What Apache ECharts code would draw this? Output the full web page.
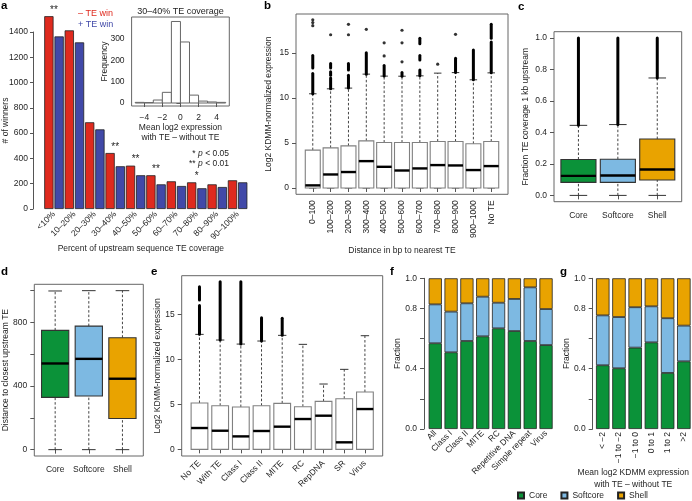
<!DOCTYPE html>
<html><head><meta charset="utf-8">
<script src="https://cdn.jsdelivr.net/npm/echarts@6/dist/echarts.min.js"></script>
<style>html,body{margin:0;padding:0;background:#fff}#c{width:692px;height:501px}</style>
</head><body><div id="c"></div>
<script>
// ================= DATA =================
// Panel a: number of winners
const aCats = ['<10%','10–20%','20–30%','30–40%','40–50%','50–60%','60–70%','70–80%','80–90%','90–100%'];
const aMinusTE = [1525,1413,686,443,343,267,219,211,195,227];
const aPlusTE  = [1365,1318,630,338,267,195,182,164,174,211];
const aStarIdx = [0,3,4,5,7];
const aStars   = ['**','**','**','**','*'];
// Panel a inset: histogram
const histEdges  = [-5,-4,-3,-2,-1,0,1,2,3,4,5];
const histCounts = [3,2,14,50,382,286,37,9,5,3];
const histXTicks = [-4,-2,0,2,4];
const histYTicks = [0,100,200,300];
// Panel b
const bCats = ['0–100','100–200','200–300','300–400','400–500','500–600','600–700','700–800','800–900','900–1000','No TE'];
const bLow  = [0,0,0,0,0,0,0,0,0,0,0];
const bQ1   = [0,0,0,0,0,0,0,0,0,0,0];
const bMed  = [0.29,1.5,1.77,2.98,2.35,1.94,2.17,2.54,2.5,1.99,2.43];
const bQ3   = [4.2,4.45,4.67,5.23,5.04,5.04,5.04,5.15,5.15,4.9,5.15];
const bHigh = [10.45,11.0,11.08,12.63,12.41,12.4,12.44,12.74,12.8,12.0,12.77];
const bOutRuns = [[[10.45,12.7],[13.3,14.7]],[[11.0,12.2],[12.5,12.9],[13.3,13.8]],[[11.08,12.5],[13.1,13.8]],[[12.63,15.0]],[[12.41,13.6]],[[12.4,12.8]],[[12.44,13.1],[14.2,14.7],[16.0,16.6]],[],[[12.8,14.4]],[[12.0,15.3]],[[12.77,16.2],[16.6,18.15]]];
const bOutPts  = [[18.0,18.35,18.65],[17.0],[17.0,18.15],[17.6],[14.65,16.1],[14.0,16.1,17.5],[],[13.73],[17.05],[],[]];
const bYTicks = [0,5,10,15];
// Panel c
const groups = ['Core','Softcore','Shell'];
const cLow  = [0,0,0];
const cQ1   = [0.083,0.083,0.098];
const cMed  = [0.124,0.126,0.165];
const cQ3   = [0.228,0.23,0.358];
const cHigh = [0.445,0.45,0.746];
const cOutRuns = [[[0.445,1.0]],[[0.45,1.0]],[[0.746,1.0]]];
const cYTicks = [0,0.2,0.4,0.6,0.8,1.0];
// Panel d
const dLow  = [0,0,0];
const dQ1   = [329,337,196];
const dMed  = [542,571,446];
const dQ3   = [750,777,704];
const dHigh = [998,1000,1000];
const dYTicks = [0,200,400,600,800,1000];
const dYLabels = [0,400,800];
// Panel e
const eCats = ['No TE','With TE','Class I','Class II','MITE','RC','RepDNA','SR','Virus'];
const eLow  = [0,0,0,0,0,0,0,0,0];
const eQ1   = [0,0,0,0,0,0,0,0,0];
const eMed  = [2.37,2.07,1.44,2.04,2.52,3.37,3.74,0.78,4.48];
const eQ3   = [5.15,4.85,4.7,4.85,5.11,4.74,5.33,5.63,6.37];
const eHigh = [12.78,12.15,11.7,12.04,12.67,11.67,7.26,8.89,12.63];
const eOutRuns = [[[12.78,16.0],[16.6,18.07]],[[12.15,18.63]],[[11.7,18.63]],[[12.04,14.63]],[[12.67,14.56]],[],[],[],[]];
const eYTicks = [0,5,10,15];
// Panel f
const fCats = ['All','Class I','Class II','MITE','RC','Repetitive DNA','Simple repeat','Virus'];
const fCore  = [0.569,0.509,0.584,0.615,0.668,0.650,0.584,0.557];
const fSoft  = [0.258,0.270,0.250,0.263,0.170,0.213,0.356,0.239];
const fShell = [0.173,0.221,0.166,0.122,0.162,0.137,0.060,0.204];
// Panel g
const gCats = ['< −2','−1 to −2','−1 to 0','0 to 1','1 to 2','>2'];
const gCore  = [0.423,0.403,0.540,0.575,0.372,0.449];
const gSoft  = [0.331,0.340,0.268,0.239,0.363,0.237];
const gShell = [0.246,0.257,0.192,0.186,0.265,0.314];
const fracTicks = [0,0.2,0.4,0.6,0.8,1.0];
const fracLabels = [0,0.4,0.8,1.0];

// ================= STYLE =================
const FONT = '"Liberation Sans", Arial, Helvetica, sans-serif';
const TXT = '#1e1e1e', AXC = '#555';
const FS = 8.5;
const RED = '#df2a1e', BLUE = '#4149a8', GREEN = '#0b9239', LBLUE = '#7db9e2', ORANGE = '#e9a300';
const lab = {fontSize: FS, color: TXT, fontFamily: FONT};

const idx = n => Array.from({length: n}, (_, i) => i + 1);
const zip5 = (lo, q1, md, q3, hi) => lo.map((v, i) => [i + 1, v, q1[i], md[i], q3[i], hi[i]]);
const runs = r => r.flatMap((list, i) => list.map(s => [i + 1, s[0], s[1]]));
const pts = p => p.flatMap((list, i) => list.map(v => [i + 1, v]));

function catX(gi, cats, min, max, rotate, margin, name, nameGap, namePad) {
  const pos = idx(cats.length);
  return {gridIndex: gi, type: 'value', min, max, name, nameLocation: 'middle', nameGap, nameMoveOverlap: false,
    nameTextStyle: Object.assign({padding: namePad || 0}, lab),
    axisLine: {show: false}, splitLine: {show: false},
    axisTick: {show: true, customValues: pos, length: 4, lineStyle: {color: AXC}},
    axisLabel: Object.assign({customValues: pos, rotate, margin, formatter: v => cats[Math.round(v) - 1] || ''}, lab)};
}
function valY(gi, min, max, labels, ticks, fmt, name, nameGap, margin) {
  return {gridIndex: gi, type: 'value', min, max, name, nameLocation: 'middle', nameGap, nameMoveOverlap: false,
    nameTextStyle: lab, axisLine: {show: false}, splitLine: {show: false},
    axisTick: {show: true, customValues: ticks, length: 4, lineStyle: {color: AXC}},
    axisLabel: Object.assign({customValues: labels, margin: margin || 7, formatter: fmt}, lab)};
}
function boxRenderer(wUnits, fills, stroke) {
  return function (params, api) {
    const x = api.value(0);
    const lo = api.value(1), q1 = api.value(2), md = api.value(3), q3 = api.value(4), hi = api.value(5);
    const half = api.size([wUnits, 0])[0] / 2, cap = half / 2;
    const cx = api.coord([x, 0])[0];
    const y = v => api.coord([x, v])[1];
    const fill = fills[params.dataIndex % fills.length];
    const wl = {stroke: '#444', lineWidth: 1, lineDash: [2.5, 2]};
    const sl = {stroke: '#333', lineWidth: 1};
    return {type: 'group', children: [
      {type: 'line', shape: {x1: cx, y1: y(q3), x2: cx, y2: y(hi)}, style: wl},
      {type: 'line', shape: {x1: cx - cap, y1: y(hi), x2: cx + cap, y2: y(hi)}, style: sl},
      {type: 'line', shape: {x1: cx, y1: y(lo), x2: cx, y2: y(q1)}, style: wl},
      {type: 'line', shape: {x1: cx - cap, y1: y(lo), x2: cx + cap, y2: y(lo)}, style: sl},
      {type: 'rect', shape: {x: cx - half, y: y(q3), width: 2 * half, height: y(q1) - y(q3)}, style: {fill, stroke, lineWidth: 1.1}},
      {type: 'line', shape: {x1: cx - half, y1: y(md), x2: cx + half, y2: y(md)}, style: {stroke: '#000', lineWidth: 2.4}}
    ]};
  };
}
function runRenderer(params, api) {
  const a = api.coord([api.value(0), api.value(1)]);
  const b = api.coord([api.value(0), api.value(2)]);
  return {type: 'line', shape: {x1: a[0], y1: a[1], x2: b[0], y2: b[1]}, style: {stroke: '#000', lineWidth: 3, lineCap: 'round'}};
}
function boxSeries(gi, data, w, fills, stroke) {
  return {type: 'custom', xAxisIndex: gi, yAxisIndex: gi, data, renderItem: boxRenderer(w, fills, stroke),
    encode: {x: 0, y: [1, 2, 3, 4, 5]}, silent: true, z: 2};
}
function runSeries(gi, data) {
  return {type: 'custom', xAxisIndex: gi, yAxisIndex: gi, data, renderItem: runRenderer, encode: {x: 0, y: [1, 2]}, silent: true, z: 3};
}
function ptSeries(gi, data) {
  return {type: 'scatter', xAxisIndex: gi, yAxisIndex: gi, data, symbol: 'circle', symbolSize: 3.2,
    itemStyle: {color: '#000'}, silent: true, z: 3};
}
const frame = {show: true, borderColor: '#666', borderWidth: 1, backgroundColor: 'transparent'};
const segStyle = c => ({color: c, borderColor: '#222', borderWidth: 0.8});
const fracAxis = (gi, offset) => ({gridIndex: gi, type: 'value', min: 0, max: 1, offset, name: 'Fraction', nameLocation: 'middle', nameGap: 22,
  nameMoveOverlap: false, nameTextStyle: lab, axisLine: {show: true, lineStyle: {color: AXC}}, splitLine: {show: false},
  axisTick: {show: true, customValues: fracTicks, length: 4, lineStyle: {color: AXC}},
  axisLabel: Object.assign({customValues: fracLabels, margin: 7, formatter: v => v.toFixed(1)}, lab)});
const stackBar = (gi, name, data, color, w) => ({type: 'bar', name, xAxisIndex: gi, yAxisIndex: gi, stack: 's' + gi, data,
  barWidth: w, itemStyle: segStyle(color), silent: true});
const grid = (o, framed) => Object.assign({outerBoundsMode: 'none', containLabel: false}, framed ? frame : {}, o);

const option = {
  animation: false,
  textStyle: {fontFamily: FONT},
  grid: [
    grid({left: 43.8, top: 32, width: 204, height: 177}),                  // 0 a
    grid({left: 131.6, top: 17, width: 97.7, height: 89}, true),           // 1 inset
    grid({left: 296, top: 14, width: 212, height: 180.3}, true),           // 2 b
    grid({left: 554, top: 31.7, width: 127.7, height: 170}, true),         // 3 c
    grid({left: 34.3, top: 284.3, width: 109, height: 171.7}, true),       // 4 d
    grid({left: 181.7, top: 275.7, width: 201, height: 180.3}, true),      // 5 e
    grid({left: 427.35, top: 278.3, width: 126.6, height: 150.7}),         // 6 f
    grid({left: 594.65, top: 278.3, width: 97.3, height: 150.7})           // 7 g
  ],
  legend: {data: ['Core', 'Softcore', 'Shell'], left: 516, top: 490, itemWidth: 6, itemHeight: 6, itemGap: 13,
    icon: 'rect', textStyle: lab, selectedMode: false, padding: 1},
  xAxis: [
    {gridIndex: 0, type: 'category', data: aCats, name: 'Percent of upstream sequence TE coverage', nameLocation: 'middle',
      nameGap: 35, nameMoveOverlap: false, nameTextStyle: Object.assign({padding: [0, 10, 0, 0]}, lab),
      axisLine: {show: false}, axisTick: {show: false}, axisLabel: Object.assign({rotate: 45, margin: 4, interval: 0}, lab)},
    {gridIndex: 1, type: 'value', min: -5.4, max: 5.4, name: 'Mean log2 expression\nwith TE – without TE', nameLocation: 'middle',
      nameGap: 17, nameMoveOverlap: false, nameTextStyle: Object.assign({lineHeight: 10}, lab), axisLine: {show: false}, splitLine: {show: false},
      axisTick: {customValues: histXTicks, length: 4, lineStyle: {color: AXC}},
      axisLabel: Object.assign({customValues: histXTicks, margin: 7, formatter: v => String(v).replace('-', '−')}, lab)},
    catX(2, bCats, 0.06, 11.94, 90, 6, 'Distance in bp to nearest TE', 52),
    catX(3, groups, 0.38, 3.62, 0, 9, '', 0),
    catX(4, groups, 0.38, 3.62, 0, 9, '', 0),
    catX(5, eCats, 0.14, 9.86, 45, 6, '', 0),
    {gridIndex: 6, type: 'category', data: fCats, axisLine: {show: false}, axisTick: {show: false},
      axisLabel: Object.assign({rotate: 45, margin: 3, interval: 0}, lab)},
    {gridIndex: 7, type: 'category', data: gCats, name: 'Mean log2 KDMM expression\nwith TE – without TE', nameLocation: 'middle',
      nameGap: 38, nameMoveOverlap: false, nameTextStyle: Object.assign({lineHeight: 12, padding: [0, 20, 0, 0]}, lab),
      axisLine: {show: false}, axisTick: {show: false}, axisLabel: Object.assign({rotate: 90, margin: 3, interval: 0}, lab)}
  ],
  yAxis: [
    {gridIndex: 0, type: 'value', min: 0, max: 1400, interval: 200, offset: 10.8, name: '# of winners', nameLocation: 'middle', nameGap: 23,
      nameMoveOverlap: false, nameTextStyle: lab, axisLine: {show: true, lineStyle: {color: AXC}}, splitLine: {show: false},
      axisTick: {show: true, length: 3, lineStyle: {color: AXC}}, axisLabel: Object.assign({margin: 5, formatter: v => String(v)}, lab)},
    valY(1, -14, 403, histYTicks, histYTicks, v => String(v), 'Frequency', 22, 7),
    valY(2, -0.7, 19.3, bYTicks, bYTicks, v => String(v), 'Log2 KDMM-normalized expression', 23, 7),
    valY(3, -0.04, 1.04, cYTicks, cYTicks, v => v.toFixed(1), 'Fraction TE coverage 1 kb upstream', 24, 7),
    valY(4, -40, 1040, dYLabels, dYTicks, v => String(v), 'Distance to closest upstream TE', 24, 7),
    valY(5, -0.74, 19.3, eYTicks, eYTicks, v => String(v), 'Log2 KDMM-normalized expression', 20, 7),
    fracAxis(6, 3.35),
    fracAxis(7, 1.95)
  ],
  series: [
    {type: 'bar', name: '– TE win', xAxisIndex: 0, yAxisIndex: 0, data: aMinusTE, barWidth: 9.3, barGap: '10%', clip: false,
      itemStyle: segStyle(RED), silent: true},
    {type: 'bar', name: '+ TE win', xAxisIndex: 0, yAxisIndex: 0, data: aPlusTE, barWidth: 9.3, barGap: '10%', clip: false,
      itemStyle: segStyle(BLUE), silent: true},
    {type: 'custom', xAxisIndex: 1, yAxisIndex: 1, silent: true,
      data: histCounts.map((c, i) => [histEdges[i], histEdges[i + 1], c]), encode: {x: [0, 1], y: 2},
      renderItem: (p, api) => {
        const a = api.coord([api.value(0), 0]), b = api.coord([api.value(1), api.value(2)]);
        return {type: 'rect', shape: {x: a[0], y: b[1], width: b[0] - a[0], height: a[1] - b[1]}, style: {fill: '#fff', stroke: '#666', lineWidth: 1}};
      }},
    boxSeries(2, zip5(bLow, bQ1, bMed, bQ3, bHigh), 0.84, ['#fff'], '#808080'),
    runSeries(2, runs(bOutRuns)),
    ptSeries(2, pts(bOutPts)),
    boxSeries(3, zip5(cLow, cQ1, cMed, cQ3, cHigh), 0.89, [GREEN, LBLUE, ORANGE], '#333'),
    runSeries(3, runs(cOutRuns)),
    boxSeries(4, zip5(dLow, dQ1, dMed, dQ3, dHigh), 0.81, [GREEN, LBLUE, ORANGE], '#333'),
    boxSeries(5, zip5(eLow, eQ1, eMed, eQ3, eHigh), 0.81, ['#fff'], '#808080'),
    runSeries(5, runs(eOutRuns)),
    stackBar(6, 'Core', fCore, GREEN, 13.2),
    stackBar(6, 'Softcore', fSoft, LBLUE, 13.2),
    stackBar(6, 'Shell', fShell, ORANGE, 13.2),
    stackBar(7, 'Core', gCore, GREEN, 13.5),
    stackBar(7, 'Softcore', gSoft, LBLUE, 13.5),
    stackBar(7, 'Shell', gShell, ORANGE, 13.5)
  ]
};

const chart = echarts.init(document.getElementById('c'), null, {renderer: 'canvas'});
chart.setOption(option);

// annotations placed through the chart's own scales
const G = [];
const T = (text, x, y, o) => G.push({type: 'text', x, y, silent: true,
  style: Object.assign({text, fill: TXT, fontSize: FS, fontFamily: FONT, align: 'left', verticalAlign: 'middle'}, o || {})});
aStarIdx.forEach((ci, k) => {
  const top = Math.max(aMinusTE[ci], aPlusTE[ci]);
  const p = chart.convertToPixel({xAxisIndex: 0, yAxisIndex: 0}, [ci, top]);
  T(aStars[k], p[0], p[1] - 1, {align: 'center', verticalAlign: 'bottom', fontSize: 10});
});
const letter = {fontSize: 11.5, fontWeight: 'bold', verticalAlign: 'bottom', fill: '#000'};
T('a', 1, 11.5, letter); T('b', 264, 11.5, letter); T('c', 518, 12.5, letter);
T('d', 1, 278, letter); T('e', 151, 278, letter); T('f', 390, 278, letter); T('g', 560, 278, letter);
T('– TE win', 78, 14, {fill: RED, fontSize: 9});
T('+ TE win', 78, 25, {fill: BLUE, fontSize: 9});
T('30–40% TE coverage', 180.5, 12, {align: 'center', fontSize: 9});
const rich = {n: {fontSize: FS, fill: TXT, fontFamily: FONT}, i: {fontSize: FS, fill: TXT, fontStyle: 'italic', fontFamily: FONT}};
T('{n|* }{i|p}{n| < 0.05}', 229, 153.5, {align: 'right', rich});
T('{n|** }{i|p}{n| < 0.01}', 229, 164, {align: 'right', rich});
chart.setOption({graphic: G});
</script>
</body></html>
